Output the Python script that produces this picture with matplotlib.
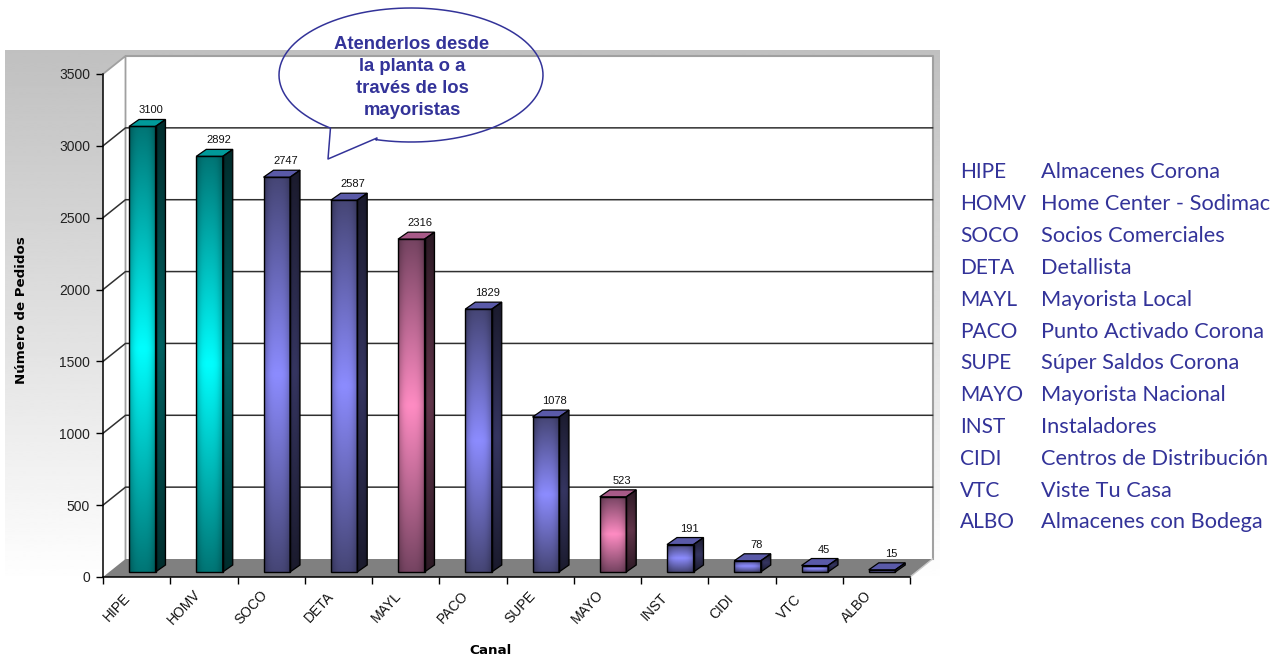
import numpy as np
import matplotlib
matplotlib.use('Agg')
import matplotlib.pyplot as plt
from matplotlib.patches import Polygon

W, H = 1286, 658

canales = ['HIPE', 'HOMV', 'SOCO', 'DETA', 'MAYL', 'PACO', 'SUPE', 'MAYO', 'INST', 'CIDI', 'VTC', 'ALBO']
pedidos = [3100, 2892, 2747, 2587, 2316, 1829, 1078, 523, 191, 78, 45, 15]
grupos = ['teal', 'teal', 'azul', 'azul', 'rosa', 'azul', 'azul', 'rosa', 'azul', 'azul', 'azul', 'azul']
nombres = ['Almacenes Corona', 'Home Center - Sodimac', 'Socios Comerciales', 'Detallista',
           'Mayorista Local', 'Punto Activado Corona', 'Súper Saldos Corona', 'Mayorista Nacional',
           'Instaladores', 'Centros de Distribución', 'Viste Tu Casa', 'Almacenes con Bodega']
nota = 'Atenderlos desde\nla planta o a\ntravés de los\nmayoristas'
y_ticks = [0, 500, 1000, 1500, 2000, 2500, 3000, 3500]

# dark and bright end of each bar gradient
colores = {'teal': ((0, 118, 118), (0, 255, 255)),
           'azul': ((70, 70, 118), (140, 140, 255)),
           'rosa': ((118, 68, 98), (255, 140, 195))}
tapa = {'teal': '#009a9a', 'azul': '#5a5aa8', 'rosa': '#a85a88'}
AZUL = '#333399'

fig = plt.figure(figsize=(W / 100, H / 100), dpi=100)

# page layer in pixels: grey panel fading to white
page = fig.add_axes([0, 0, 1, 1], zorder=0)
fade = np.clip(np.linspace(192, 262, 256), 0, 255).reshape(-1, 1)
page.imshow(fade, cmap='gray', vmin=0, vmax=255, extent=[5, 940, 645, 50], aspect='auto', interpolation='bilinear')
page.set_xlim(0, W)
page.set_ylim(H, 0)
page.axis('off')

# front plane of the chart
ax = fig.add_axes([103 / W, (H - 577) / H, 807 / W, 503 / H], zorder=1)
ax.patch.set_visible(False)
ax.set_xlim(0, 12)
ax.set_ylim(0, 3500)
ax.set_autoscale_on(False)
px = 12 / 807
py = 3500 / 503
dx, dy = 22.5 * px, 18 * py     # wall depth
bx, by = 10 * px, 7 * py        # bar depth
base = 5 * py


def poly(pts, **kw):
    p = Polygon(pts, closed=True, clip_on=False, **kw)
    ax.add_patch(p)
    return p


# walls and floor
poly([(0, 0), (0, 3500), (dx, 3500 + dy), (dx, dy)], fc='white', ec='none', zorder=1)
poly([(dx, dy), (dx, 3500 + dy), (12 + dx, 3500 + dy), (12 + dx, dy)], fc='white', ec='none', zorder=1)
ax.plot([0, dx, dx], [3500, 3500 + dy, dy], color='#a0a0a0', lw=1.3, clip_on=False, zorder=2)
ax.plot([dx, 12 + dx, 12 + dx], [3500 + dy, 3500 + dy, dy], color='#a0a0a0', lw=1.5, clip_on=False, zorder=2)
poly([(0, 0), (dx, dy), (12 + dx, dy), (12, 0)], fc='#808080', ec='none', zorder=3)
ax.plot([12, 12 + dx], [0, dy], color='#c8c8c8', lw=1, clip_on=False, zorder=3)

for v in y_ticks[1:-1]:
    ax.plot([0, dx, 12 + dx], [v, v + dy, v + dy], color='#303030', lw=1.1, clip_on=False, zorder=2)


def gradiente(grupo, escala=1.0):
    dark, bright = colores[grupo]
    dark = np.array(dark) / 255
    bright = np.array(bright) / 255
    u = np.linspace(0, 1, 128)
    v = np.linspace(0, 1, 32)
    t = 1 - np.abs(2 * u - 1)
    img = dark[None, None, :] + (bright - dark)[None, None, :] * t[:, None, None]
    img = img * (1 - 0.28 * np.abs(2 * v - 1) ** 3)[None, :, None]
    return np.clip(img * escala, 0, 1)


for i, (valor, grupo) in enumerate(zip(pedidos, grupos)):
    x0 = i + 26 * px
    x1 = x0 + 26.5 * px
    y1 = valor + base
    z = 5 + i
    # front face
    ax.imshow(gradiente(grupo), extent=[x0, x1, base, y1], origin='lower', aspect='auto',
              interpolation='bilinear', zorder=z, clip_on=False)
    # side face, an image cut down to the parallelogram
    lado = ax.imshow(gradiente(grupo, 0.38), extent=[x1, x1 + bx, base, y1 + by], origin='lower',
                     aspect='auto', interpolation='bilinear', zorder=z)
    lado.set_clip_path(Polygon([(x1, base), (x1, y1), (x1 + bx, y1 + by), (x1 + bx, base + by)],
                               closed=True, transform=ax.transData))
    poly([(x0, y1), (x1, y1), (x1 + bx, y1 + by), (x0 + bx, y1 + by)], fc=tapa[grupo], ec='black', lw=0.9, zorder=z)
    poly([(x0, base), (x0, y1), (x1, y1), (x1, base)], fc='none', ec='black', lw=1.0, zorder=z)
    poly([(x1, base), (x1, y1), (x1 + bx, y1 + by), (x1 + bx, base + by)], fc='none', ec='black', lw=0.9, zorder=z)
    ax.text((x0 + x1) / 2 + 9 * px, y1 + 16 * py, str(valor), ha='center', va='center',
            fontsize=8, family='Liberation Sans', color='#111111', zorder=30)
    ax.text(i + 14 * px, -30 * py, canales[i], rotation=47, ha='center', va='center',
            fontsize=10, family='Liberation Sans', color='#111111', rotation_mode='anchor')

ax.set_xticks(range(13))
ax.set_xticklabels([])
ax.set_yticks(y_ticks)
ax.set_yticklabels(y_ticks, fontsize=10, family='Liberation Sans', color='#222222')
ax.tick_params(length=5, width=1, pad=4.3)
for s in ['top', 'right']:
    ax.spines[s].set_visible(False)
for s in ['left', 'bottom']:
    ax.spines[s].set_linewidth(1.1)
    ax.spines[s].set_zorder(40)

ax.set_ylabel('Número de Pedidos', fontsize=9.6, fontweight='bold', family='DejaVu Sans', va='center')
ax.yaxis.set_label_coords((22 - 103) / 807, (577 - 310) / 503)
ax.set_xlabel('Canal', fontsize=9.7, fontweight='bold', family='DejaVu Sans', va='center')
ax.xaxis.set_label_coords((490 - 103) / 807, (577 - 650) / 503)

# callout and the channel key on top, in pixels
top = fig.add_axes([0, 0, 1, 1], zorder=2)
top.patch.set_visible(False)
top.set_xlim(0, W)
top.set_ylim(H, 0)
top.axis('off')

t = np.radians(np.linspace(105.3, 127.6 - 360, 240))
gx = list(411 + 132 * np.cos(t)) + [328, 377.0]
gy = list(75 + 67 * np.sin(t)) + [159, 138.0]
gx.append(gx[0])
gy.append(gy[0])
top.plot(gx, gy, color=AZUL, lw=1.1)
top.text(412, 77.5, nota, ha='center', va='center', fontsize=13.3, fontweight='bold',
         family='Liberation Sans', color=AZUL, linespacing=1.36)

filas = np.linspace(172.5, 522.5, 12)
for fila, c, n in zip(filas, canales, nombres):
    top.text(960, fila, c, va='center', fontsize=15, family='Lato', color=AZUL)
    top.text(1041, fila, n, va='center', fontsize=15.7, family='Lato', color=AZUL)

fig.savefig('out.png', dpi=100)
